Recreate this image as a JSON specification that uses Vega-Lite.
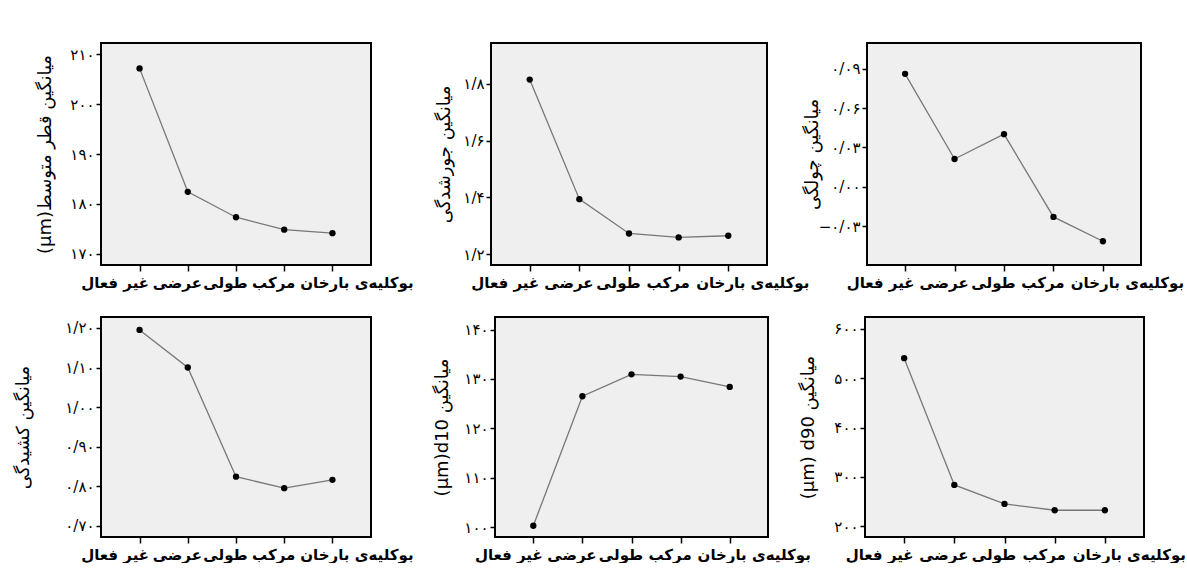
{
  "$schema": "https://vega.github.io/schema/vega-lite/v6.json",
  "padding": {"left": 13, "top": 42, "right": 0, "bottom": 0},
  "background": "white",
  "config": {
    "font": "DejaVu Sans",
    "view": {"fill": "#efefef", "stroke": "black", "strokeWidth": 2},
    "axisX": {"title": null, "domain": false, "grid": false, "tickSize": 6, "tickColor": "black", "tickWidth": 1.5, "labelFont": "DejaVu Sans", "labelFontSize": 15, "labelFontWeight": "bold", "labelColor": "black", "labelPadding": 4, "labelAngle": 0, "labelOverlap": false, "labelBound": false},
    "axisY": {"domain": false, "grid": false, "tickSize": 5, "tickColor": "black", "tickWidth": 1.5, "labelFont": "DejaVu Sans", "labelFontSize": 15, "labelColor": "black", "labelPadding": 2, "titleFont": "DejaVu Sans", "titleFontSize": 18, "titleFontWeight": "normal", "titleColor": "black", "minExtent": 30, "maxExtent": 30, "labelOverlap": false}
  },
  "datasets": {
    "p1": [
      {"category": "غیر فعال", "value": 207.2},
      {"category": "عرضی", "value": 182.4},
      {"category": "طولی", "value": 177.3},
      {"category": "مرکب", "value": 174.8},
      {"category": "بوکلیه‌ی بارخان", "value": 174.1}
    ],
    "p2": [
      {"category": "غیر فعال", "value": 1.815},
      {"category": "عرضی", "value": 1.394},
      {"category": "طولی", "value": 1.273},
      {"category": "مرکب", "value": 1.259},
      {"category": "بوکلیه‌ی بارخان", "value": 1.265}
    ],
    "p3": [
      {"category": "غیر فعال", "value": 0.086},
      {"category": "عرضی", "value": 0.0212},
      {"category": "طولی", "value": 0.0401},
      {"category": "مرکب", "value": -0.0229},
      {"category": "بوکلیه‌ی بارخان", "value": -0.0414}
    ],
    "p4": [
      {"category": "غیر فعال", "value": 1.195},
      {"category": "عرضی", "value": 1.1},
      {"category": "طولی", "value": 0.824},
      {"category": "مرکب", "value": 0.795},
      {"category": "بوکلیه‌ی بارخان", "value": 0.816}
    ],
    "p5": [
      {"category": "غیر فعال", "value": 100.26},
      {"category": "عرضی", "value": 126.5},
      {"category": "طولی", "value": 130.95},
      {"category": "مرکب", "value": 130.48},
      {"category": "بوکلیه‌ی بارخان", "value": 128.4}
    ],
    "p6": [
      {"category": "غیر فعال", "value": 540.4},
      {"category": "عرضی", "value": 283.7},
      {"category": "طولی", "value": 245.3},
      {"category": "مرکب", "value": 232.5},
      {"category": "بوکلیه‌ی بارخان", "value": 232.5}
    ]
  },
  "bounds": "full",
  "spacing": 25,
  "vconcat": [
    {
      "bounds": "flush",
      "spacing": 120,
      "hconcat": [
        {
          "width": 270, "height": 222,
          "data": {"name": "p1"},
          "mark": {"type": "line", "color": "#777777", "strokeWidth": 1.3, "point": {"filled": true, "color": "black", "size": 40}},
          "encoding": {
            "x": {"field": "category", "type": "nominal", "sort": ["غیر فعال", "عرضی", "طولی", "مرکب", "بوکلیه‌ی بارخان"], "scale": {"type": "point", "padding": 0.8},
              "axis": {"title": null, "labelOffset": {"condition": [{"test": "datum.value === 'غیر فعال'", "value": -25}, {"test": "datum.value === 'عرضی'", "value": -11}, {"test": "datum.value === 'طولی'", "value": -11}, {"test": "datum.value === 'مرکب'", "value": -11}], "value": 24}}},
            "y": {"field": "value", "type": "quantitative", "scale": {"domain": [167.7, 212.3], "nice": false, "zero": false},
              "axis": {"title": "(μm)میانگین قطر متوسط", "titlePadding": 17, "values": [170, 180, 190, 200, 210],
                "labelExpr": "replace(replace(replace(replace(replace(replace(replace(replace(replace(replace(replace(format(datum.value, 'd'), regexp('0','g'), '۰'), regexp('1','g'), '۱'), regexp('2','g'), '۲'), regexp('3','g'), '۳'), regexp('4','g'), '۴'), regexp('5','g'), '۵'), regexp('6','g'), '۶'), regexp('7','g'), '۷'), regexp('8','g'), '۸'), regexp('9','g'), '۹'), regexp('[.]','g'), '/')"}}
          }
        },
        {
          "bounds": "flush",
          "spacing": 100,
          "hconcat": [
            {
              "width": 276, "height": 222,
              "data": {"name": "p2"},
              "mark": {"type": "line", "color": "#777777", "strokeWidth": 1.3, "point": {"filled": true, "color": "black", "size": 40}},
              "encoding": {
                "x": {"field": "category", "type": "nominal", "sort": ["غیر فعال", "عرضی", "طولی", "مرکب", "بوکلیه‌ی بارخان"], "scale": {"type": "point", "padding": 0.78},
                  "axis": {"title": null, "labelOffset": {"condition": [{"test": "datum.value === 'غیر فعال'", "value": -25}, {"test": "datum.value === 'عرضی'", "value": -11}, {"test": "datum.value === 'طولی'", "value": -11}, {"test": "datum.value === 'مرکب'", "value": -11}], "value": 24}}},
                "y": {"field": "value", "type": "quantitative", "scale": {"domain": [1.162, 1.944], "nice": false, "zero": false},
                  "axis": {"title": "میانگین جورشدگی", "titlePadding": 8, "values": [1.2, 1.4, 1.6, 1.8],
                    "labelExpr": "replace(replace(replace(replace(replace(replace(replace(replace(replace(replace(replace(format(datum.value, '.1f'), regexp('0','g'), '۰'), regexp('1','g'), '۱'), regexp('2','g'), '۲'), regexp('3','g'), '۳'), regexp('4','g'), '۴'), regexp('5','g'), '۵'), regexp('6','g'), '۶'), regexp('7','g'), '۷'), regexp('8','g'), '۸'), regexp('9','g'), '۹'), regexp('[.]','g'), '/')"}}
              }
            },
            {
              "width": 274, "height": 222,
              "data": {"name": "p3"},
              "mark": {"type": "line", "color": "#777777", "strokeWidth": 1.3, "point": {"filled": true, "color": "black", "size": 40}},
              "encoding": {
                "x": {"field": "category", "type": "nominal", "sort": ["غیر فعال", "عرضی", "طولی", "مرکب", "بوکلیه‌ی بارخان"], "scale": {"type": "point", "padding": 0.77},
                  "axis": {"title": null, "labelOffset": {"condition": [{"test": "datum.value === 'غیر فعال'", "value": -25}, {"test": "datum.value === 'عرضی'", "value": -11}, {"test": "datum.value === 'طولی'", "value": -11}, {"test": "datum.value === 'مرکب'", "value": -11}], "value": 24}}},
                "y": {"field": "value", "type": "quantitative", "scale": {"domain": [-0.0595, 0.1095], "nice": false, "zero": false},
                  "axis": {"title": "میانگین چولگی", "titlePadding": 16, "values": [-0.03, 0, 0.03, 0.06, 0.09],
                    "labelExpr": "replace(replace(replace(replace(replace(replace(replace(replace(replace(replace(replace(format(datum.value, '.2f'), regexp('0','g'), '۰'), regexp('1','g'), '۱'), regexp('2','g'), '۲'), regexp('3','g'), '۳'), regexp('4','g'), '۴'), regexp('5','g'), '۵'), regexp('6','g'), '۶'), regexp('7','g'), '۷'), regexp('8','g'), '۸'), regexp('9','g'), '۹'), regexp('[.]','g'), '/')"}}
              }
            }
          ]
        }
      ]
    },
    {
      "bounds": "flush",
      "spacing": 124,
      "hconcat": [
        {
          "width": 270, "height": 220,
          "data": {"name": "p4"},
          "mark": {"type": "line", "color": "#777777", "strokeWidth": 1.3, "point": {"filled": true, "color": "black", "size": 40}},
          "encoding": {
            "x": {"field": "category", "type": "nominal", "sort": ["غیر فعال", "عرضی", "طولی", "مرکب", "بوکلیه‌ی بارخان"], "scale": {"type": "point", "padding": 0.8},
              "axis": {"title": null, "labelOffset": {"condition": [{"test": "datum.value === 'غیر فعال'", "value": -25}, {"test": "datum.value === 'عرضی'", "value": -11}, {"test": "datum.value === 'طولی'", "value": -11}, {"test": "datum.value === 'مرکب'", "value": -11}], "value": 24}}},
            "y": {"field": "value", "type": "quantitative", "scale": {"domain": [0.6715, 1.2277], "nice": false, "zero": false},
              "axis": {"title": "میانگین کشیدگی", "titlePadding": 39, "values": [0.7, 0.8, 0.9, 1.0, 1.1, 1.2],
                "labelExpr": "replace(replace(replace(replace(replace(replace(replace(replace(replace(replace(replace(format(datum.value, '.2f'), regexp('0','g'), '۰'), regexp('1','g'), '۱'), regexp('2','g'), '۲'), regexp('3','g'), '۳'), regexp('4','g'), '۴'), regexp('5','g'), '۵'), regexp('6','g'), '۶'), regexp('7','g'), '۷'), regexp('8','g'), '۸'), regexp('9','g'), '۹'), regexp('[.]','g'), '/')"}}
          }
        },
        {
          "bounds": "flush",
          "spacing": 97,
          "hconcat": [
            {
              "width": 273, "height": 220,
              "data": {"name": "p5"},
              "mark": {"type": "line", "color": "#777777", "strokeWidth": 1.3, "point": {"filled": true, "color": "black", "size": 40}},
              "encoding": {
                "x": {"field": "category", "type": "nominal", "sort": ["غیر فعال", "عرضی", "طولی", "مرکب", "بوکلیه‌ی بارخان"], "scale": {"type": "point", "padding": 0.78},
                  "axis": {"title": null, "labelOffset": {"condition": [{"test": "datum.value === 'غیر فعال'", "value": -25}, {"test": "datum.value === 'عرضی'", "value": -11}, {"test": "datum.value === 'طولی'", "value": -11}, {"test": "datum.value === 'مرکب'", "value": -11}], "value": 24}}},
                "y": {"field": "value", "type": "quantitative", "scale": {"domain": [97.98, 142.56], "nice": false, "zero": false},
                  "axis": {"title": "(μm)d10 میانگین", "titlePadding": 14, "values": [100, 110, 120, 130, 140],
                    "labelExpr": "replace(replace(replace(replace(replace(replace(replace(replace(replace(replace(replace(format(datum.value, 'd'), regexp('0','g'), '۰'), regexp('1','g'), '۱'), regexp('2','g'), '۲'), regexp('3','g'), '۳'), regexp('4','g'), '۴'), regexp('5','g'), '۵'), regexp('6','g'), '۶'), regexp('7','g'), '۷'), regexp('8','g'), '۸'), regexp('9','g'), '۹'), regexp('[.]','g'), '/')"}}
              }
            },
            {
              "width": 279, "height": 220,
              "data": {"name": "p6"},
              "mark": {"type": "line", "color": "#777777", "strokeWidth": 1.3, "point": {"filled": true, "color": "black", "size": 40}},
              "encoding": {
                "x": {"field": "category", "type": "nominal", "sort": ["غیر فعال", "عرضی", "طولی", "مرکب", "بوکلیه‌ی بارخان"], "scale": {"type": "point", "padding": 0.78},
                  "axis": {"title": null, "labelOffset": {"condition": [{"test": "datum.value === 'غیر فعال'", "value": -25}, {"test": "datum.value === 'عرضی'", "value": -11}, {"test": "datum.value === 'طولی'", "value": -11}, {"test": "datum.value === 'مرکب'", "value": -11}], "value": 24}}},
                "y": {"field": "value", "type": "quantitative", "scale": {"domain": [178.3, 623.8], "nice": false, "zero": false},
                  "axis": {"title": "(μm) d90 میانگین", "titlePadding": 18, "values": [200, 300, 400, 500, 600],
                    "labelExpr": "replace(replace(replace(replace(replace(replace(replace(replace(replace(replace(replace(format(datum.value, 'd'), regexp('0','g'), '۰'), regexp('1','g'), '۱'), regexp('2','g'), '۲'), regexp('3','g'), '۳'), regexp('4','g'), '۴'), regexp('5','g'), '۵'), regexp('6','g'), '۶'), regexp('7','g'), '۷'), regexp('8','g'), '۸'), regexp('9','g'), '۹'), regexp('[.]','g'), '/')"}}
              }
            }
          ]
        }
      ]
    }
  ]
}
